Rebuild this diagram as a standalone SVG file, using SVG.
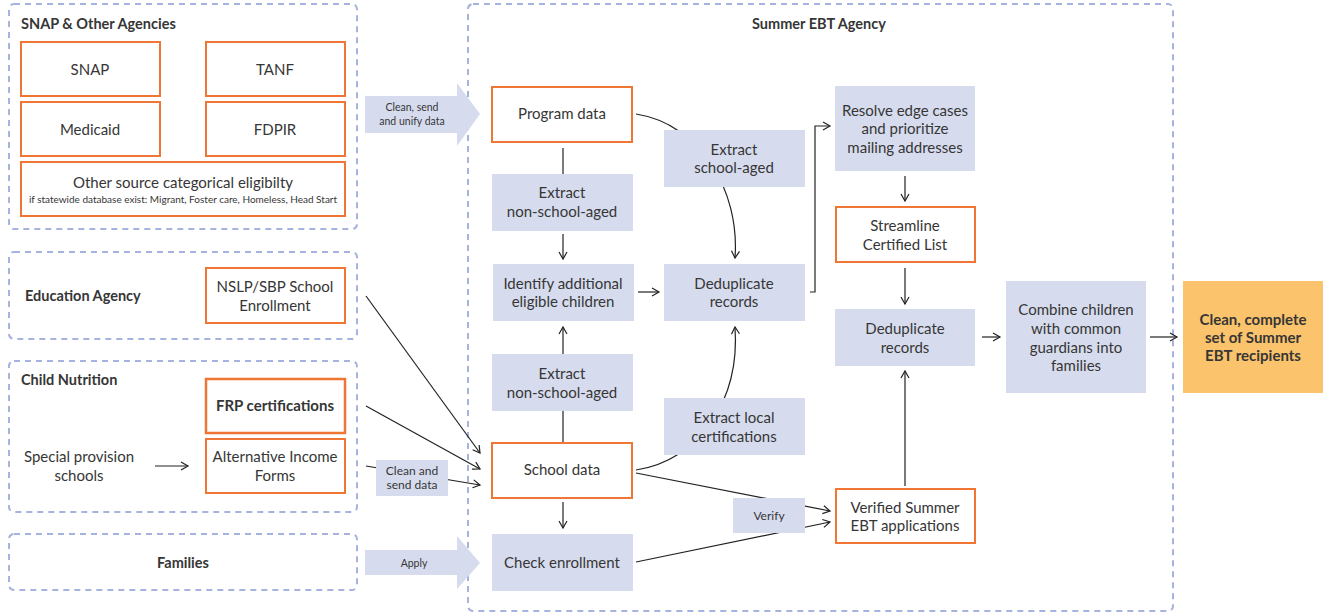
<svg xmlns="http://www.w3.org/2000/svg" width="1325" height="613" viewBox="0 0 1325 613">
<defs>
<style>
text{font-family:Lato,"Liberation Sans",sans-serif;fill:#363636;font-size:15px}
.c{text-anchor:middle}
.b{font-weight:bold}
.t{font-size:14.5px;font-weight:bold}
.s{font-size:10.5px}
.xs{font-size:10px}
.m{font-size:12px}
.grp{fill:none;stroke:#A7B3DF;stroke-width:2;stroke-dasharray:6 5}
.src{fill:#fff;stroke:#F07636;stroke-width:2}
.act{fill:#D6DCEE}
.out{fill:#FBC36B}
.ln{fill:none;stroke:#222;stroke-width:1.2}
.ar{marker-end:url(#ah)}
</style>
<marker id="ah" markerUnits="userSpaceOnUse" markerWidth="12" markerHeight="12" refX="8" refY="5" orient="auto">
<path d="M1,1 L8,5 L1,9" fill="none" stroke="#222" stroke-width="1.2"/>
</marker>
</defs>

<g id="containers">
<rect id="snap-agencies" class="grp" x="9" y="4" width="348" height="225" rx="5"/>
<rect id="education-agency" class="grp" x="9" y="252" width="348" height="87" rx="5"/>
<rect id="child-nutrition" class="grp" x="9" y="361" width="348" height="151" rx="5"/>
<rect id="families" class="grp" x="9" y="534" width="348" height="56" rx="5"/>
<rect id="summer-ebt-agency" class="grp" x="468" y="4" width="705" height="607" rx="5"/>
<text class="t" x="21" y="29">SNAP &amp; Other Agencies</text>
<text class="t" x="25" y="301">Education Agency</text>
<text class="t" x="21" y="385">Child Nutrition</text>
<text class="t c" x="183" y="568">Families</text>
<text class="t c" x="819" y="29">Summer EBT Agency</text>
</g>

<g id="connectors">
<polygon id="arrow-clean-send" class="act" points="365,96 457,96 457,83 480,114 457,146 457,133 365,133"/>
<polygon id="arrow-apply" class="act" points="365,550 457,550 457,536 480,563 457,589 457,575 365,575"/>
<line class="ln ar" x1="155" y1="466" x2="188" y2="466"/>
<line class="ln ar" x1="366" y1="296" x2="480" y2="453"/>
<line class="ln ar" x1="366" y1="406" x2="480" y2="469"/>
<line class="ln ar" x1="366" y1="466" x2="480" y2="485"/>
<line class="ln" x1="563" y1="148" x2="563" y2="174"/>
<line class="ln ar" x1="563" y1="234" x2="563" y2="259"/>
<path class="ln ar" d="M636,114 C700,124 740,190 735,258"/>
<line class="ln ar" x1="638" y1="292" x2="659" y2="292"/>
<polyline class="ln ar" points="810,292 815,292 815,126 830,126"/>
<line class="ln ar" x1="905" y1="176" x2="905" y2="201"/>
<line class="ln ar" x1="905" y1="268" x2="905" y2="304"/>
<line class="ln" x1="563" y1="443" x2="563" y2="411"/>
<line class="ln ar" x1="563" y1="354" x2="563" y2="327"/>
<line class="ln ar" x1="563" y1="502" x2="563" y2="528"/>
<path class="ln ar" d="M636,470 C700,460 740,400 735,327"/>
<line class="ln ar" x1="636" y1="473" x2="830" y2="511"/>
<line class="ln ar" x1="636" y1="562" x2="830" y2="522"/>
<line class="ln ar" x1="905" y1="486" x2="905" y2="371"/>
<line class="ln ar" x1="982" y1="337" x2="1000" y2="337"/>
<line class="ln ar" x1="1150" y1="337" x2="1177" y2="337"/>
<text class="s c" x="412" y="111">Clean, send</text>
<text class="s c" x="412" y="125">and unify data</text>
<text class="s c" x="414" y="567">Apply</text>
<g id="label-clean-send-data">
<rect class="act" x="376" y="460" width="72" height="36"/>
<text class="m c" x="412" y="475">Clean and</text>
<text class="m c" x="412" y="489">send data</text>
</g>
<g id="label-verify">
<rect class="act" x="733" y="498" width="72" height="35"/>
<text class="m c" x="769" y="520">Verify</text>
</g>
</g>

<g id="snap"><rect class="src" x="21" y="42" width="139" height="54"/><text class="c" x="90" y="75">SNAP</text></g>
<g id="tanf"><rect class="src" x="206" y="42" width="139" height="54"/><text class="c" x="275" y="75">TANF</text></g>
<g id="medicaid"><rect class="src" x="21" y="102" width="139" height="54"/><text class="c" x="90" y="135">Medicaid</text></g>
<g id="fdpir"><rect class="src" x="206" y="102" width="139" height="54"/><text class="c" x="275" y="135">FDPIR</text></g>
<g id="other-source"><rect class="src" x="21" y="162" width="324" height="54"/><text class="c" x="183" y="188">Other source categorical eligibilty</text><text class="xs c" x="183" y="203">if statewide database exist: Migrant, Foster care, Homeless, Head Start</text></g>
<g id="nslp"><rect class="src" x="206" y="268" width="139" height="55"/><text class="c" x="275" y="292">NSLP/SBP School</text><text class="c" x="275" y="311">Enrollment</text></g>
<g id="frp"><rect class="src" x="206" y="379" width="139" height="54" style="stroke-width:2.5"/><text class="c b" x="275" y="411">FRP certifications</text></g>
<g id="alt-income"><rect class="src" x="206" y="439" width="139" height="54"/><text class="c" x="275" y="462">Alternative Income</text><text class="c" x="275" y="481">Forms</text></g>
<g id="special-provision"><text class="c" x="79" y="462">Special provision</text><text class="c" x="79" y="481">schools</text></g>

<g id="program-data"><rect class="src" x="492" y="87" width="140" height="55"/><text class="c" x="562" y="119">Program data</text></g>
<g id="extract-non-school-1"><rect class="act" x="492" y="174" width="141" height="57"/><text class="c" x="562" y="198">Extract</text><text class="c" x="562" y="217">non-school-aged</text></g>
<g id="identify-additional"><rect class="act" x="493" y="264" width="141" height="57"/><text class="c" x="563" y="289">Identify additional</text><text class="c" x="563" y="307">eligible children</text></g>
<g id="extract-non-school-2"><rect class="act" x="492" y="354" width="141" height="57"/><text class="c" x="562" y="379">Extract</text><text class="c" x="562" y="398">non-school-aged</text></g>
<g id="school-data"><rect class="src" x="492" y="443" width="140" height="55"/><text class="c" x="562" y="475">School data</text></g>
<g id="check-enrollment"><rect class="act" x="492" y="534" width="141" height="57"/><text class="c" x="562" y="568">Check enrollment</text></g>

<g id="extract-school-aged"><rect class="act" x="664" y="130" width="141" height="57"/><text class="c" x="734" y="155">Extract</text><text class="c" x="734" y="173">school-aged</text></g>
<g id="dedup-1"><rect class="act" x="664" y="264" width="141" height="57"/><text class="c" x="734" y="289">Deduplicate</text><text class="c" x="734" y="307">records</text></g>
<g id="extract-local"><rect class="act" x="664" y="398" width="141" height="57"/><text class="c" x="734" y="423">Extract local</text><text class="c" x="734" y="442">certifications</text></g>

<g id="resolve-edge"><rect class="act" x="835" y="86" width="140" height="85"/><text class="c" x="905" y="116">Resolve edge cases</text><text class="c" x="905" y="134">and prioritize</text><text class="c" x="905" y="153">mailing addresses</text></g>
<g id="streamline"><rect class="src" x="836" y="207" width="139" height="55"/><text class="c" x="905" y="231">Streamline</text><text class="c" x="905" y="250">Certified List</text></g>
<g id="dedup-2"><rect class="act" x="835" y="309" width="140" height="57"/><text class="c" x="905" y="334">Deduplicate</text><text class="c" x="905" y="353">records</text></g>
<g id="verified-apps"><rect class="src" x="836" y="489" width="139" height="54"/><text class="c" x="905" y="513">Verified Summer</text><text class="c" x="905" y="531">EBT applications</text></g>
<g id="combine"><rect class="act" x="1006" y="281" width="140" height="112"/><text class="c" x="1076" y="315">Combine children</text><text class="c" x="1076" y="334">with common</text><text class="c" x="1076" y="353">guardians into</text><text class="c" x="1076" y="371">families</text></g>
<g id="clean-complete"><rect class="out" x="1183" y="281" width="140" height="112"/><text class="c b" x="1253" y="325">Clean, complete</text><text class="c b" x="1253" y="343">set of Summer</text><text class="c b" x="1253" y="361">EBT recipients</text></g>
</svg>
